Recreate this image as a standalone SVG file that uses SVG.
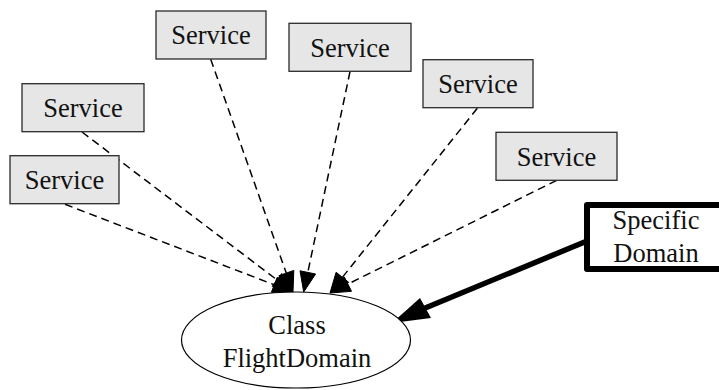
<svg xmlns="http://www.w3.org/2000/svg" width="719" height="390" viewBox="0 0 719 390">
<style>
.svc{fill:#e6e6e6;stroke:#2a2a2a;stroke-width:1.3}
.t{font-size:26.5px;fill:#111;text-anchor:middle}
.d{stroke:#000;stroke-width:1.5;stroke-dasharray:8,5;fill:none}
.ah{fill:#000;stroke:#000;stroke-width:1}
</style>
<rect width="719" height="390" fill="#fff"/>
<g id="edges">
<line class="d" x1="65" y1="204.3" x2="274.3" y2="284.8"/>
<line class="d" x1="82" y1="132" x2="277" y2="279.9"/>
<line class="d" x1="210.7" y1="59.3" x2="286.3" y2="273.1"/>
<line class="d" x1="350" y1="71.7" x2="307.8" y2="272.4"/>
<line class="d" x1="477.3" y1="108.3" x2="342.4" y2="277.3"/>
<line class="d" x1="556.7" y1="180.3" x2="347.9" y2="284.1"/>
<polygon class="ah" points="293,292 271.4,292.3 277.2,277.3"/>
<polygon class="ah" points="293,292 272.2,286.3 281.8,273.5"/>
<polygon class="ah" points="293,292 278.8,275.8 293.8,270.4"/>
<polygon class="ah" points="303.7,292 300,270.8 315.6,274"/>
<polygon class="ah" points="330,293 348.7,282.3 336.1,272.3"/>
<polygon class="ah" points="330,293 351.5,291.3 344.3,276.9"/>
<line x1="587" y1="241" x2="424" y2="308.5" stroke="#000" stroke-width="5.5"/>
<polygon points="392,323 420,298 431,318" fill="#000"/>
</g>
<g font-family="'Liberation Serif', 'DejaVu Serif', serif">
<g id="classFlightDomain">
<ellipse cx="296" cy="340" rx="114.5" ry="48" fill="#fff" stroke="#000" stroke-width="1.2"/>
<text class="t" x="297" y="334">Class</text>
<text class="t" x="297" y="366.5">FlightDomain</text>
</g>
<g id="svc1"><rect class="svc" x="156" y="11" width="110" height="48"/><text class="t" x="211" y="44.3">Service</text></g>
<g id="svc2"><rect class="svc" x="289" y="23.3" width="122" height="48"/><text class="t" x="350" y="56.7">Service</text></g>
<g id="svc3"><rect class="svc" x="423" y="59.7" width="110" height="48"/><text class="t" x="478" y="93">Service</text></g>
<g id="svc4"><rect class="svc" x="496" y="132.3" width="121" height="48"/><text class="t" x="556.5" y="165.6">Service</text></g>
<g id="svc5"><rect class="svc" x="22" y="83.7" width="122" height="48"/><text class="t" x="83" y="117">Service</text></g>
<g id="svc6"><rect class="svc" x="10" y="155.7" width="109" height="48"/><text class="t" x="64.5" y="189">Service</text></g>
<g id="specificDomain">
<rect x="587" y="205" width="160" height="64" fill="#fff" stroke="#000" stroke-width="6" stroke-linejoin="round"/>
<text class="t" x="656" y="229.3">Specific</text>
<text class="t" x="656" y="261.7">Domain</text>
</g>
</g>
</svg>
